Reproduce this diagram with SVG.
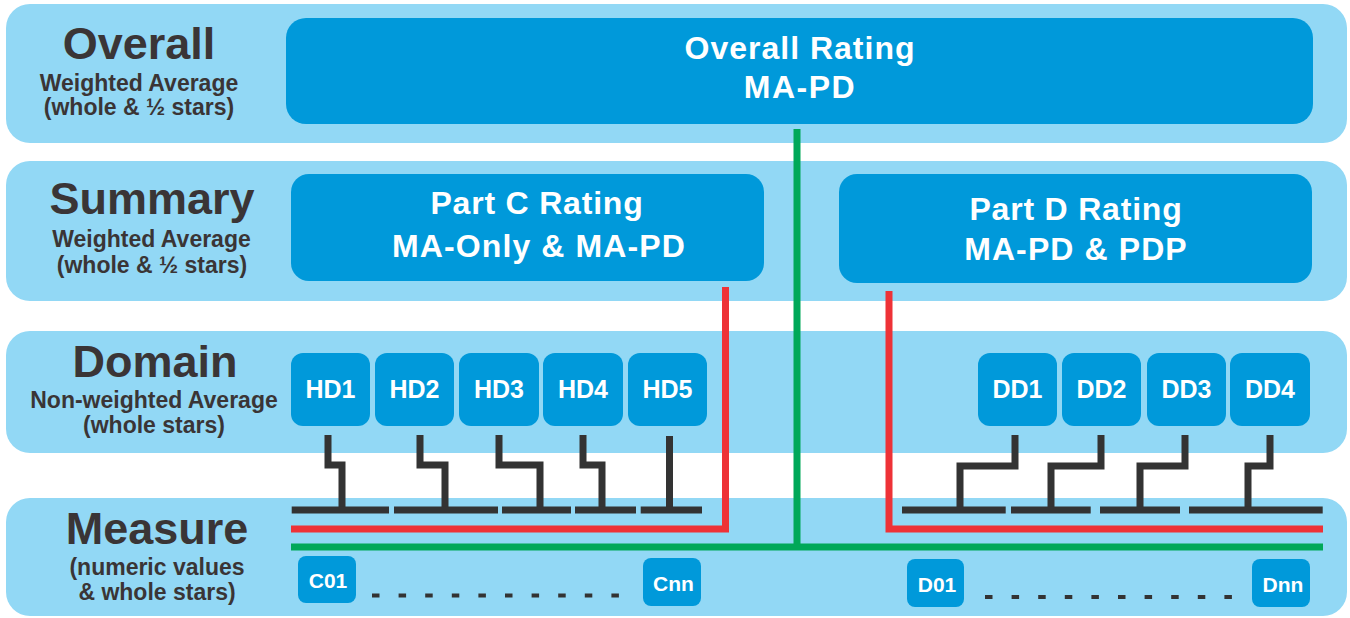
<svg xmlns="http://www.w3.org/2000/svg" width="1350" height="618" viewBox="0 0 1350 618">
  <style>
    .band { fill: #92D8F5; }
    .box { fill: #0099DA; }
    .title { font-family: "Liberation Sans", Arial, sans-serif; font-weight: bold; font-size: 45px; fill: #3A3536; text-anchor: middle; }
    .sub { font-family: "Liberation Sans", Arial, sans-serif; font-weight: bold; font-size: 23px; fill: #3A3536; text-anchor: middle; }
    .big { font-family: "Liberation Sans", Arial, sans-serif; font-weight: bold; font-size: 32px; fill: #FFFFFF; text-anchor: middle; letter-spacing: 1px; }
    .dom { font-family: "Liberation Sans", Arial, sans-serif; font-weight: bold; font-size: 25px; fill: #FFFFFF; text-anchor: middle; }
    .meas { font-family: "Liberation Sans", Arial, sans-serif; font-weight: bold; font-size: 21px; fill: #FFFFFF; text-anchor: middle; }
    .conn { fill: none; stroke: #333333; stroke-width: 7; stroke-linejoin: miter; stroke-linecap: butt; }
    .red { fill: none; stroke: #EE3237; stroke-width: 7; stroke-linejoin: miter; }
    .green { fill: none; stroke: #00A859; stroke-width: 7; stroke-linejoin: miter; }
    .dots { fill: none; stroke: #333333; stroke-width: 4; stroke-dasharray: 7.5 19.1; }
  </style>

  <g id="bands">
    <rect class="band" x="6" y="4" width="1341" height="139" rx="24"/>
    <rect class="band" x="6" y="161" width="1341" height="140" rx="24"/>
    <rect class="band" x="6" y="331" width="1341" height="122" rx="24"/>
    <rect class="band" x="6" y="498" width="1341" height="118" rx="24"/>
  </g>

  <g id="row-labels">
    <text class="title" x="139" y="59">Overall</text>
    <text class="sub" x="139" y="90.5">Weighted Average</text>
    <text class="sub" x="139" y="115">(whole &amp; ½ stars)</text>

    <text class="title" x="152" y="214">Summary</text>
    <text class="sub" x="151.5" y="246.5">Weighted Average</text>
    <text class="sub" x="152" y="273">(whole &amp; ½ stars)</text>

    <text class="title" x="155" y="377">Domain</text>
    <text class="sub" x="154" y="408">Non-weighted Average</text>
    <text class="sub" x="154" y="433">(whole stars)</text>

    <text class="title" x="157" y="544">Measure</text>
    <text class="sub" x="157" y="575">(numeric values</text>
    <text class="sub" x="157" y="600">&amp; whole stars)</text>
  </g>

  <g id="connectors">
    <path class="green" d="M797,129 V547"/>
    <path class="green" d="M291,547 H1323"/>
    <path class="red" d="M291,529 H725.5 V287"/>
    <path class="red" d="M889,291 V529 H1323"/>

    <path class="conn" d="M328,435 V465 H342 V510"/>
    <path class="conn" d="M420,435 V465 H445 V510"/>
    <path class="conn" d="M499,435 V465 H540 V510"/>
    <path class="conn" d="M583,435 V465 H602 V510"/>
    <path class="conn" d="M669.5,436 V510"/>
    <path class="conn" d="M291.7,510 H389 M394,510 H498 M502,510 H571 M575,510 H636 M640.7,510 H702"/>

    <path class="conn" d="M1015,435 V466 H960 V510"/>
    <path class="conn" d="M1101,435 V466 H1051 V510"/>
    <path class="conn" d="M1185,435 V466 H1140 V510"/>
    <path class="conn" d="M1270,435 V466 H1248 V510"/>
    <path class="conn" d="M902,510 H1005.7 M1011,510 H1090.7 M1100,510 H1180 M1189,510 H1322.7"/>

    <path class="dots" d="M372,595.5 H620"/>
    <path class="dots" d="M985,597 H1233"/>
  </g>

  <g id="overall-rating">
    <rect class="box" x="286" y="18" width="1027" height="106" rx="20"/>
    <text class="big" x="800" y="59">Overall Rating</text>
    <text class="big" x="800" y="98" style="letter-spacing:1.5px">MA-PD</text>
  </g>

  <g id="part-c-rating">
    <rect class="box" x="291" y="174" width="473" height="107" rx="18"/>
    <text class="big" x="537" y="214" style="letter-spacing:0.8px">Part C Rating</text>
    <text class="big" x="539" y="256.5" style="letter-spacing:1.1px">MA-Only &amp; MA-PD</text>
  </g>

  <g id="part-d-rating">
    <rect class="box" x="839" y="174" width="473" height="109" rx="18"/>
    <text class="big" x="1076" y="219.5" style="letter-spacing:0.8px">Part D Rating</text>
    <text class="big" x="1076" y="259.5" style="letter-spacing:1.1px">MA-PD &amp; PDP</text>
  </g>

  <g id="HD1"><rect class="box" x="291" y="353" width="79" height="73" rx="12"/><text class="dom" x="330.5" y="398">HD1</text></g>
  <g id="HD2"><rect class="box" x="375" y="353" width="79" height="73" rx="12"/><text class="dom" x="414.5" y="398">HD2</text></g>
  <g id="HD3"><rect class="box" x="459" y="353" width="80" height="73" rx="12"/><text class="dom" x="499" y="398">HD3</text></g>
  <g id="HD4"><rect class="box" x="543" y="353" width="80" height="73" rx="12"/><text class="dom" x="583" y="398">HD4</text></g>
  <g id="HD5"><rect class="box" x="628" y="353" width="79" height="73" rx="12"/><text class="dom" x="667.5" y="398">HD5</text></g>

  <g id="DD1"><rect class="box" x="978" y="353" width="79" height="73" rx="12"/><text class="dom" x="1017.5" y="398">DD1</text></g>
  <g id="DD2"><rect class="box" x="1062" y="353" width="79" height="73" rx="12"/><text class="dom" x="1101.5" y="398">DD2</text></g>
  <g id="DD3"><rect class="box" x="1147" y="353" width="79" height="73" rx="12"/><text class="dom" x="1186.5" y="398">DD3</text></g>
  <g id="DD4"><rect class="box" x="1230" y="353" width="80" height="73" rx="12"/><text class="dom" x="1270" y="398">DD4</text></g>

  <g id="C01"><rect class="box" x="298" y="556" width="58" height="47" rx="8"/><text class="meas" x="328" y="588">C01</text></g>
  <g id="Cnn"><rect class="box" x="643" y="558" width="58" height="48" rx="8"/><text class="meas" x="673.5" y="590.5">Cnn</text></g>
  <g id="D01"><rect class="box" x="907" y="559" width="57" height="48" rx="8"/><text class="meas" x="937" y="591.5">D01</text></g>
  <g id="Dnn"><rect class="box" x="1252" y="559" width="58" height="48" rx="8"/><text class="meas" x="1283" y="592">Dnn</text></g>
</svg>
